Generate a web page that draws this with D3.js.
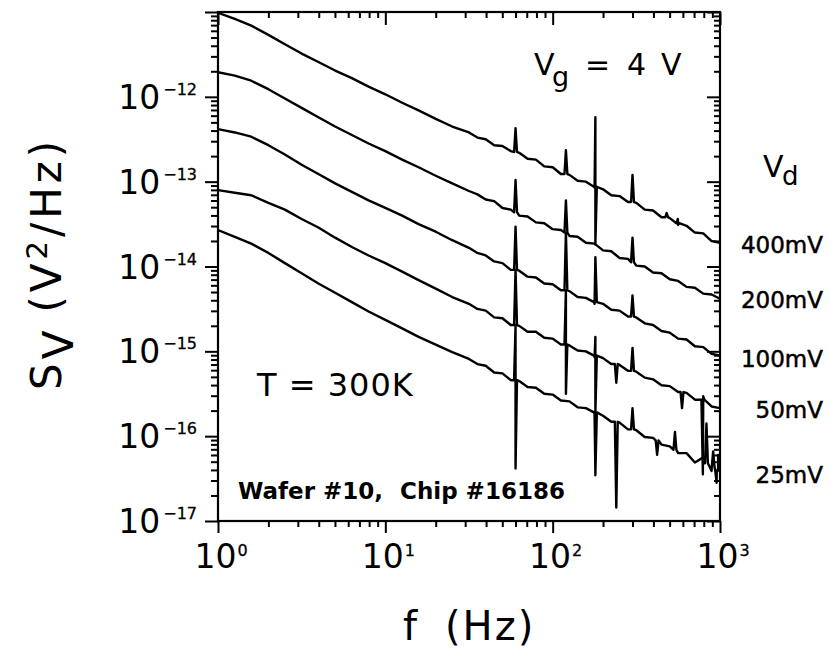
<!DOCTYPE html>
<html>
<head>
<meta charset="utf-8">
<script src="https://cdn.jsdelivr.net/npm/d3@7"></script>
<style>
  body { margin: 0; background: #fff; }
  svg { display: block; }
  text { font-family: "DejaVu Sans", sans-serif; fill: #000; }
</style>
</head>
<body>
<svg id="chart" width="830" height="657"></svg>
<script>
// Frequency grid (Hz) shared by all noise spectra
const freqHz = [1, 1.26, 1.58, 2.0, 2.51, 3.16, 3.98, 5.01, 6.31, 7.94, 10, 12.6, 15.8, 20, 25.1, 31.6,
  35.5, 39.8, 44.7, 50.1, 56.2, 63.1, 70.8, 79.4, 89.1, 100, 112, 126, 141, 158, 178, 200, 224, 251, 282,
  316, 355, 398, 447, 501, 562, 631, 708, 794, 891, 1000];

// log10 of S_V (V^2/Hz) for each drain voltage, one value per frequency above
const logSv400 = [-11.01, -11.08, -11.16, -11.27, -11.38, -11.49, -11.59, -11.69, -11.78, -11.88, -11.97, -12.07, -12.16, -12.26, -12.35, -12.42,
  -12.48, -12.50, -12.57, -12.58, -12.64, -12.66, -12.73, -12.74, -12.82, -12.83, -12.91, -12.92, -12.99, -13.00, -13.07, -13.09, -13.16, -13.17,
  -13.24, -13.25, -13.33, -13.34, -13.42, -13.43, -13.51, -13.52, -13.60, -13.61, -13.70, -13.72];
const logSv200 = [-11.71, -11.75, -11.81, -11.91, -12.02, -12.13, -12.24, -12.35, -12.45, -12.55, -12.64, -12.74, -12.83, -12.93, -13.02, -13.11,
  -13.15, -13.21, -13.23, -13.31, -13.33, -13.40, -13.41, -13.48, -13.49, -13.56, -13.57, -13.64, -13.65, -13.72, -13.73, -13.81, -13.82, -13.90,
  -13.91, -13.99, -14.00, -14.07, -14.08, -14.15, -14.17, -14.24, -14.25, -14.32, -14.33, -14.38];
const logSv100 = [-12.38, -12.42, -12.47, -12.57, -12.68, -12.80, -12.91, -13.02, -13.12, -13.22, -13.31, -13.40, -13.50, -13.59, -13.69, -13.78,
  -13.84, -13.87, -13.94, -13.96, -14.04, -14.05, -14.12, -14.13, -14.20, -14.21, -14.28, -14.29, -14.36, -14.37, -14.44, -14.44, -14.51, -14.52,
  -14.59, -14.60, -14.67, -14.69, -14.76, -14.78, -14.85, -14.86, -14.94, -14.95, -15.03, -15.05];
const logSv50 = [-13.10, -13.13, -13.16, -13.25, -13.33, -13.44, -13.54, -13.66, -13.77, -13.87, -13.96, -14.06, -14.16, -14.26, -14.36, -14.44,
  -14.50, -14.52, -14.60, -14.61, -14.69, -14.70, -14.77, -14.77, -14.84, -14.85, -14.92, -14.93, -14.99, -15.00, -15.07, -15.08, -15.15, -15.16,
  -15.23, -15.24, -15.31, -15.33, -15.40, -15.41, -15.48, -15.49, -15.57, -15.53, -15.65, -15.67];
const logSv25 = [-13.57, -13.65, -13.73, -13.84, -13.96, -14.08, -14.20, -14.31, -14.42, -14.53, -14.63, -14.73, -14.83, -14.92, -15.01, -15.09,
  -15.15, -15.17, -15.25, -15.26, -15.34, -15.35, -15.42, -15.43, -15.50, -15.51, -15.58, -15.59, -15.66, -15.67, -15.74, -15.76, -15.83, -15.84,
  -15.92, -15.93, -16.01, -16.02, -16.10, -16.12, -16.20, -16.20, -16.31, -16.25, -16.41, -16.42];

// Line-frequency pickup and other narrow features: [f (Hz), log10 base, log10 extreme(s)...]
const spikes400 = [[60, -12.65, -12.37], [120, -12.91, -12.63], [180, -13.06, -12.24, -13.74], [300, -13.24, -12.92],
  [480, -13.42, -13.37], [560, -13.49, -13.44]];
const spikes200 = [[60, -13.36, -12.98], [120, -13.60, -13.22], [300, -13.95, -13.66]];
const spikes100 = [[60, -14.04, -13.53], [120, -14.28, -13.60], [180, -14.42, -13.89], [300, -14.59, -14.34]];
const spikes50 = [[60, -14.69, -14.04], [120, -14.92, -14.28, -15.50], [180, -15.05, -14.83, -15.73], [240, -15.15, -15.37],
  [300, -15.23, -14.96], [593, -15.48, -15.67], [790, -15.57, -16.45]];
const spikes25 = [[60, -15.34, -14.69, -16.38], [180, -15.72, -16.46], [240, -15.83, -16.84], [300, -15.92, -15.67],
  [421, -16.05, -16.22], [538, -16.16, -15.95], [830, -16.32, -15.85], [910, -16.37, -16.18], [955, -16.40, -16.55], [975, -16.41, -16.22]];

const seriesLabels = ["400mV", "200mV", "100mV", "50mV", "25mV"];
const seriesValues = [logSv400, logSv200, logSv100, logSv50, logSv25];
const seriesSpikes = [spikes400, spikes200, spikes100, spikes50, spikes25];

const xMajorExps = [0, 1, 2, 3];
const yMajorExps = [-17, -16, -15, -14, -13, -12, -11];
const yLabelExps = [-17, -16, -15, -14, -13, -12];

const svg = d3.select("#chart");
const plot = { left: 218, top: 12, right: 720, bottom: 521 };

const x = d3.scaleLog().domain([1, 1000]).range([plot.left, plot.right]);
const y = d3.scaleLog().domain([1e-17, 1e-11]).range([plot.bottom, plot.top]);

// tick positions
const xMajor = xMajorExps.map(k => 10 ** k);
const xMinor = d3.range(0, 3).flatMap(k => d3.range(2, 10).map(m => m * 10 ** k));
const yMajor = yMajorExps.map(k => 10 ** k);
const yMinor = d3.range(-17, -11).flatMap(k => d3.range(2, 10).map(m => m * 10 ** k));

function tickAxis(axis, transform) {
  const g = svg.append("g").attr("transform", transform).call(axis);
  g.select(".domain").remove();
  g.selectAll(".tick line").attr("stroke", "#000").attr("stroke-width", 2);
  g.selectAll(".tick text").remove();
}
// left & bottom: ticks point outward; top & right: ticks point inward
tickAxis(d3.axisLeft(y).tickValues(yMinor).tickSize(7), `translate(${plot.left},0)`);
tickAxis(d3.axisLeft(y).tickValues(yMajor).tickSize(13), `translate(${plot.left},0)`);
tickAxis(d3.axisBottom(x).tickValues(xMinor).tickSize(6), `translate(0,${plot.bottom})`);
tickAxis(d3.axisBottom(x).tickValues(xMajor).tickSize(12), `translate(0,${plot.bottom})`);
tickAxis(d3.axisTop(x).tickValues(xMinor).tickSize(-6), `translate(0,${plot.top})`);
tickAxis(d3.axisTop(x).tickValues(xMajor).tickSize(-13), `translate(0,${plot.top})`);
tickAxis(d3.axisRight(y).tickValues(yMinor).tickSize(-6), `translate(${plot.right},0)`);
tickAxis(d3.axisRight(y).tickValues(yMajor).tickSize(-13), `translate(${plot.right},0)`);

// frame
svg.append("rect")
  .attr("x", plot.left).attr("y", plot.top)
  .attr("width", plot.right - plot.left).attr("height", plot.bottom - plot.top)
  .attr("fill", "none").attr("stroke", "#000").attr("stroke-width", 2.2);

// y tick labels: 10^k
yLabelExps.forEach(k => {
  const t = svg.append("text")
    .attr("x", 197).attr("y", y(10 ** k) + 12)
    .attr("text-anchor", "end").attr("font-size", 33);
  t.append("tspan").text("10");
  t.append("tspan").attr("font-size", 16).attr("dy", -14).attr("dx", 3)
    .attr("stroke", "#000").attr("stroke-width", 0.3).text("\u2212" + Math.abs(k));
});

// x tick labels
xMajorExps.forEach(k => {
  const t = svg.append("text")
    .attr("x", x(10 ** k) + 3).attr("y", 568)
    .attr("text-anchor", "middle").attr("font-size", 33);
  t.append("tspan").text("10");
  t.append("tspan").attr("font-size", 16).attr("dy", -12).attr("dx", 1)
    .attr("stroke", "#000").attr("stroke-width", 0.3).text(String(k));
});

// spectra
svg.append("clipPath").attr("id", "plotClip").append("rect")
  .attr("x", plot.left).attr("y", plot.top)
  .attr("width", plot.right - plot.left).attr("height", plot.bottom - plot.top);

const line = d3.line().x(d => x(d[0])).y(d => y(d[1]));

seriesValues.forEach((vals, i) => {
  const pts = freqHz.map((f, j) => [f, 10 ** vals[j]]);
  seriesSpikes[i].forEach(([f, base, ...ext]) => {
    pts.push([f / 1.02, 10 ** base]);
    ext.forEach(e => pts.push([f, 10 ** e]));
    pts.push([f * 1.02, 10 ** base]);
  });
  pts.sort((a, b) => a[0] - b[0]);
  svg.append("path")
    .datum(pts)
    .attr("clip-path", "url(#plotClip)")
    .attr("d", line)
    .attr("fill", "none")
    .attr("stroke", "#000")
    .attr("stroke-width", 2.4)
    .attr("stroke-linejoin", "round");
});

// drain-voltage labels at the right of each curve end
const labelBaselines = [253, 308, 367, 418, 483];
seriesLabels.forEach((lab, i) => {
  svg.append("text")
    .attr("x", 823).attr("y", labelBaselines[i])
    .attr("text-anchor", "end").attr("font-size", 23)
    .attr("stroke", "#000").attr("stroke-width", 0.5)
    .text(lab);
});

// V_d heading
const vd = svg.append("text").attr("y", 177).attr("font-size", 30);
vd.append("tspan").attr("x", 763).text("V");
vd.append("tspan").attr("x", 782).attr("dy", 8).attr("font-size", 26).text("d");

// V_g annotation
const vg = svg.append("text").attr("y", 75).attr("font-size", 30);
vg.append("tspan").attr("x", 534).text("V");
vg.append("tspan").attr("x", 552).attr("dy", 11).attr("font-size", 27).text("g");
vg.append("tspan").attr("x", 585).attr("dy", -11).text("=");
vg.append("tspan").attr("x", 627).text("4");
vg.append("tspan").attr("x", 661).text("V");

// temperature annotation
svg.append("text").attr("x", 257).attr("y", 396).attr("font-size", 32)
  .attr("letter-spacing", 1).text("T = 300K");

// sample annotation
const wf = svg.append("text").attr("y", 499).attr("font-size", 23).attr("font-weight", "bold");
wf.append("tspan").attr("x", 238).text("Wafer #10,");
wf.append("tspan").attr("x", 400).text("Chip #16186");

// axis titles
const yt = svg.append("text")
  .attr("transform", "translate(61,390) rotate(-90)")
  .attr("font-size", 42).attr("letter-spacing", 4);
yt.append("tspan").text("S");
yt.append("tspan").attr("dy", 12).text("V");
yt.append("tspan").attr("dy", -12).attr("dx", 14).text("(V");
yt.append("tspan").attr("dy", -14).attr("font-size", 29).text("2");
yt.append("tspan").attr("dy", 14).text("/Hz)");

const xt = svg.append("text").attr("y", 640).attr("font-size", 40).attr("letter-spacing", 2);
xt.append("tspan").attr("x", 403).text("f");
xt.append("tspan").attr("x", 445).text("(Hz)");
</script>
</body>
</html>
